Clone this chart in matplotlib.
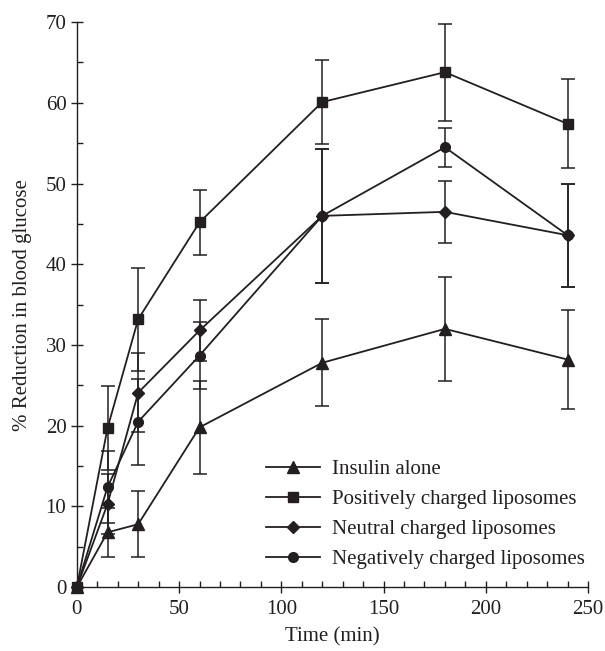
import numpy as np
import matplotlib.pyplot as plt
from matplotlib.ticker import MultipleLocator
from matplotlib.lines import Line2D

# data
time_min = [0, 15, 30, 60, 120, 180, 240]

insulin = [0, 6.8, 7.8, 19.8, 27.8, 32.0, 28.2]
insulin_err = [0, 3.0, 4.1, 5.8, 5.4, 6.4, 6.1]

positive = [0, 19.7, 33.2, 45.2, 60.1, 63.8, 57.4]
positive_err = [0, 5.2, 6.4, 4.0, 5.2, 6.0, 5.5]

neutral = [0, 10.3, 24.1, 31.8, 46.0, 46.5, 43.6]
neutral_err = [0, 3.7, 4.9, 3.8, 8.3, 3.8, 6.4]

negative = [0, 12.4, 20.5, 28.7, 46.0, 54.5, 43.6]
negative_err = [0, 4.5, 5.3, 4.2, 8.3, 2.4, 6.4]

labels = ['Insulin alone', 'Positively charged liposomes',
          'Neutral charged liposomes', 'Negatively charged liposomes']

ink = '#231f20'
fs = 15
plt.rcParams['font.family'] = ['Liberation Serif', 'DejaVu Serif']

fig = plt.figure(figsize=(6.05, 6.51), dpi=100)
ax = fig.add_axes([0.127, 0.098, 0.845, 0.868])

series = [
    (insulin, insulin_err, '^', 8),
    (positive, positive_err, 's', 7.5),
    (neutral, neutral_err, 'D', 6),
    (negative, negative_err, 'o', 7),
]

handles = []
for (vals, err, mk, ms), lab in zip(series, labels):
    ax.errorbar(time_min, vals, yerr=err, errorevery=(1, 1),
                color=ink, marker=mk, markersize=ms, linewidth=1.3,
                elinewidth=1.1, capsize=5, capthick=1.1,
                clip_on=False, zorder=3)
    handles.append(Line2D([], [], color=ink, marker=mk, markersize=ms,
                          linewidth=1.3, label=lab))

ax.set_xlim(0, 250)
ax.set_ylim(0, 70)
ax.xaxis.set_major_locator(MultipleLocator(50))
ax.xaxis.set_minor_locator(MultipleLocator(10))
ax.yaxis.set_major_locator(MultipleLocator(10))
ax.yaxis.set_minor_locator(MultipleLocator(5))

for s in ['top', 'right']:
    ax.spines[s].set_visible(False)
for s in ['left', 'bottom']:
    ax.spines[s].set_color(ink)
    ax.spines[s].set_linewidth(1.0)

ax.tick_params(which='major', direction='inout', length=9, width=1.0,
               color=ink, labelsize=fs, labelcolor=ink)
ax.tick_params(axis='x', which='major', pad=5)
ax.tick_params(axis='y', which='major', pad=3)
ax.tick_params(which='minor', direction='in', length=4.5, width=1.0, color=ink)

ax.set_xlabel('Time (min)', fontsize=fs, color=ink, labelpad=6)
ax.set_ylabel('% Reduction in blood glucose', fontsize=fs, color=ink, labelpad=10)

leg = ax.legend(handles=handles, loc='upper left', bbox_to_anchor=(0.37, 0.226),
                frameon=False, fontsize=fs, handlelength=2.6,
                handletextpad=0.55, labelspacing=0.5, borderpad=0,
                borderaxespad=0)
for t in leg.get_texts():
    t.set_color(ink)

fig.savefig('out.png', dpi=100)
